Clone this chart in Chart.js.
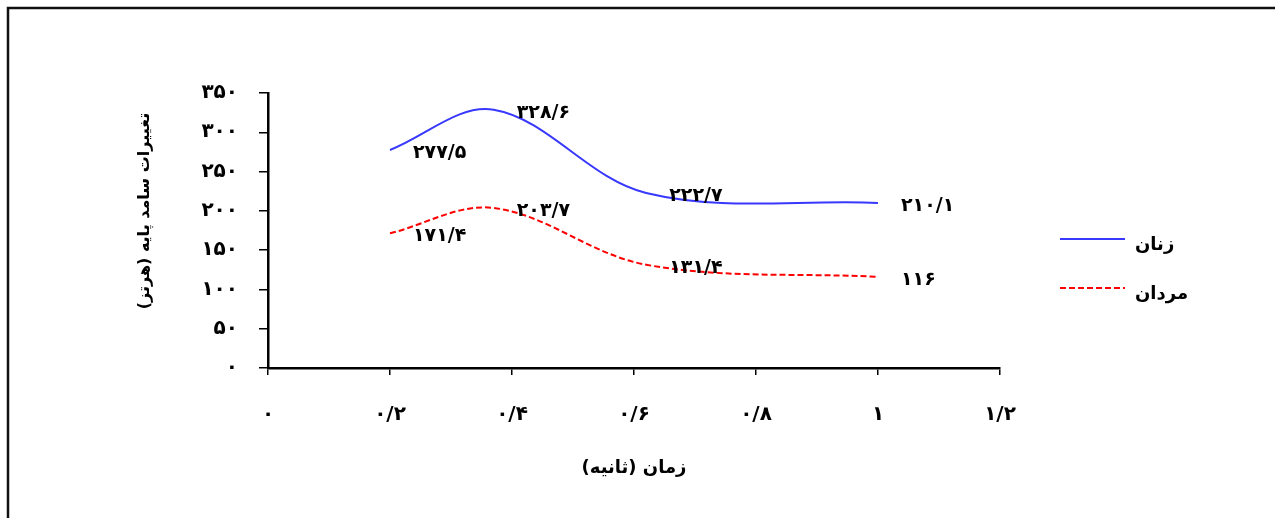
<!DOCTYPE html>
<html lang="fa">
<head>
    <meta charset="UTF-8">
    <title>تغییرات سامد پایه</title>
    <script src="https://cdn.jsdelivr.net/npm/chart.js"></script>
    <style>
        html, body { margin: 0; padding: 0; background: #fff; }
        #chart { display: block; }
    </style>
</head>
<body>
    <canvas id="chart" width="1275" height="518" dir="rtl"></canvas>

    <script>
        // data
        const timeValues = [0.2, 0.37, 0.62, 1.0];
        const womenValues = [277.5, 328.6, 222.7, 210.1];
        const menValues = [171.4, 203.7, 131.4, 116];
        const seriesLabels = ['زنان', 'مردان'];
        const xAxisTitle = 'زمان (ثانیه)';
        const yAxisTitle = 'تغییرات سامد پایه (هرتز)';

        const FONT = "'DejaVu Sans', sans-serif";
        const faDigits = '۰۱۲۳۴۵۶۷۸۹';

        // 0.2 -> ۰/۲
        function toFa(v) {
            const s = String(Math.round(v * 10) / 10);
            return s.replace(/[0-9]/g, d => faDigits[+d]).replace('.', '/');
        }

        function points(values) {
            return timeValues.map((t, i) => ({ x: t, y: values[i] }));
        }

        // chart frame
        const framePlugin = {
            id: 'frame',
            beforeDraw(chart) {
                const ctx = chart.ctx;
                ctx.save();
                ctx.strokeStyle = '#111';
                ctx.lineWidth = 2.5;
                ctx.strokeRect(8, 8, 1300, 600);
                ctx.restore();
            }
        };

        // value labels to the right of every point
        const valueLabels = {
            id: 'valueLabels',
            afterDatasetsDraw(chart) {
                const ctx = chart.ctx;
                ctx.save();
                ctx.font = 'bold 19px ' + FONT;
                ctx.fillStyle = '#000';
                ctx.textAlign = 'left';
                ctx.textBaseline = 'middle';
                chart.data.datasets.forEach((ds, i) => {
                    chart.getDatasetMeta(i).data.forEach((pt, j) => {
                        ctx.fillText(toFa(ds.data[j].y), pt.x + 23, pt.y + 3);
                    });
                });
                ctx.restore();
            }
        };

        // legend on the right side
        const sideLegend = {
            id: 'sideLegend',
            afterDraw(chart) {
                const ctx = chart.ctx;
                ctx.save();
                ctx.font = 'bold 18px ' + FONT;
                ctx.textAlign = 'left';
                ctx.textBaseline = 'middle';
                chart.data.datasets.forEach((ds, i) => {
                    const y = 239 + i * 49;
                    ctx.strokeStyle = ds.borderColor;
                    ctx.lineWidth = ds.borderWidth;
                    ctx.setLineDash(ds.borderDash || []);
                    ctx.beginPath();
                    ctx.moveTo(1060, y);
                    ctx.lineTo(1125, y);
                    ctx.stroke();
                    ctx.setLineDash([]);
                    ctx.fillStyle = '#000';
                    ctx.fillText(ds.label, 1135, y + 6);
                });
                ctx.restore();
            }
        };

        const chart = new Chart(document.getElementById('chart'), {
            type: 'line',
            data: {
                datasets: [{
                    label: seriesLabels[0],
                    data: points(womenValues),
                    borderColor: '#3838ff',
                    borderWidth: 2,
                    tension: 0.35,
                    pointRadius: 0,
                    fill: false
                }, {
                    label: seriesLabels[1],
                    data: points(menValues),
                    borderColor: '#ff0000',
                    borderWidth: 2,
                    borderDash: [6, 3],
                    tension: 0.35,
                    pointRadius: 0,
                    fill: false
                }]
            },
            options: {
                responsive: false,
                animation: false,
                layout: { padding: { top: 93, right: 275, bottom: 0, left: 0 } },
                plugins: {
                    legend: { display: false },
                    tooltip: { enabled: false }
                },
                scales: {
                    x: {
                        type: 'linear',
                        min: 0,
                        max: 1.2,
                        afterFit: s => { s.height = 150; },
                        border: { display: true, color: '#000', width: 2.5 },
                        grid: { drawOnChartArea: false, drawTicks: true, tickLength: 7, color: '#000', lineWidth: 1.5 },
                        ticks: {
                            stepSize: 0.2,
                            padding: 28,
                            color: '#000',
                            font: { family: FONT, size: 20, weight: 'bold' },
                            maxRotation: 0,
                            callback: v => toFa(v)
                        },
                        title: {
                            display: true,
                            text: xAxisTitle,
                            color: '#000',
                            font: { family: FONT, size: 18, weight: 'bold' },
                            padding: { top: 0, bottom: 39 }
                        }
                    },
                    y: {
                        min: 0,
                        max: 350,
                        afterFit: s => { s.width = 268; },
                        border: { display: true, color: '#000', width: 2.5 },
                        grid: { drawOnChartArea: false, drawTicks: true, tickLength: 9, color: '#000', lineWidth: 1.5 },
                        ticks: {
                            stepSize: 50,
                            padding: 21,
                            color: '#000',
                            font: { family: FONT, size: 20, weight: 'bold' },
                            callback: v => toFa(v)
                        },
                        title: {
                            display: true,
                            text: yAxisTitle + '       ',
                            color: '#000',
                            font: { family: FONT, size: 16, weight: 'bold' },
                            padding: { top: 135, bottom: 0 }
                        }
                    }
                }
            },
            plugins: [framePlugin, valueLabels, sideLegend]
        });
    </script>
</body>
</html>
